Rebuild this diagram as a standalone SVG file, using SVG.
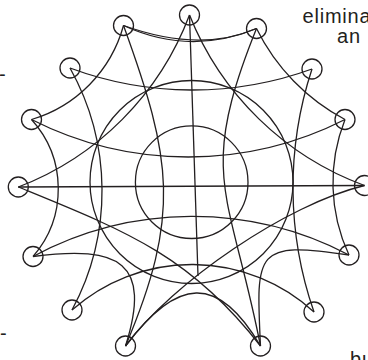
<svg xmlns="http://www.w3.org/2000/svg" width="368" height="360" viewBox="0 0 368 360">
<style>
.e{fill:none;stroke:#231f20;stroke-width:1.3}
.n{fill:none;stroke:#231f20;stroke-width:1.3}
.t{font-family:"Liberation Sans",Arial,sans-serif;font-size:20px;letter-spacing:0.8px;fill:#231f20}
</style>
<rect width="368" height="360" fill="#fff"/>
<g id="connectors">
<path class="e" d="M123.5,25.5 Q190,56 256.5,28.5"/>
<path class="e" d="M123.5,25.5 Q200,53 256.5,28.5"/>
<path class="e" d="M123.5,25.5 A135.4,135.4 0 0 1 31.5,119.5"/>
<path class="e" d="M123.5,25.5 C172.1,159 180.9,215.4 125.5,346"/>
<path class="e" d="M256.5,28.5 A206.6,206.6 0 0 0 345,119.5"/>
<path class="e" d="M256.5,28.5 C196.7,177 229.6,189 260.5,346"/>
<path class="e" d="M70,68 A351.2,351.2 0 0 0 312,69"/>
<path class="e" d="M70,68 A251.6,251.6 0 0 1 72,310"/>
<path class="e" d="M312,69 A379,379 0 0 0 314,312"/>
<path class="e" d="M31.5,119.5 A346.4,346.4 0 0 0 345,119.5"/>
<path class="e" d="M31.5,119.5 A103.2,103.2 0 0 1 33,256.5"/>
<path class="e" d="M345,119.5 A171.2,171.2 0 0 0 349,255"/>
<path class="e" d="M18.3,187 L364.5,185.5"/>
<path class="e" d="M189.5,15 A296.2,296.2 0 0 1 18.3,187"/>
<path class="e" d="M189.5,15 A300,300 0 0 0 364.5,185.5"/>
<path class="e" d="M18.3,187 C124.7,230.6 190,255.1 260.5,346"/>
<path class="e" d="M364.5,185.5 C286.7,204.3 173.2,281.8 125.5,346"/>
<path class="e" d="M33,256.5 A337.2,337.2 0 0 1 349,255"/>
<path class="e" d="M33,256.5 C120.3,245.2 151.9,262.4 125.5,346"/>
<path class="e" d="M349,255 C255,240.75 255.75,251 260.5,346"/>
<path class="e" d="M72,310 A180.7,180.7 0 0 1 314,312"/>
<path class="e" d="M125.5,346 C176.9,277.5 217.7,273.2 260.5,346"/>
<path class="e" d="M189.5,15 L198,276"/>
<circle class="e" cx="191.5" cy="182" r="101.5"/>
<circle class="e" cx="191.7" cy="182.2" r="56.3"/>
</g>
<g id="n0"><circle class="n" cx="189.5" cy="15" r="10"/></g>
<g id="n1"><circle class="n" cx="256.5" cy="28.5" r="10"/></g>
<g id="n2"><circle class="n" cx="312" cy="69" r="10"/></g>
<g id="n3"><circle class="n" cx="345" cy="119.5" r="10"/></g>
<g id="n4"><circle class="n" cx="364.5" cy="185.5" r="10"/></g>
<g id="n5"><circle class="n" cx="349" cy="255" r="10"/></g>
<g id="n6"><circle class="n" cx="314" cy="312" r="10"/></g>
<g id="n7"><circle class="n" cx="260.5" cy="346" r="10"/></g>
<g id="n9"><circle class="n" cx="125.5" cy="346" r="10"/></g>
<g id="n10"><circle class="n" cx="72" cy="310" r="10"/></g>
<g id="n11"><circle class="n" cx="33" cy="256.5" r="10"/></g>
<g id="n12"><circle class="n" cx="18.3" cy="187" r="10"/></g>
<g id="n13"><circle class="n" cx="31.5" cy="119.5" r="10"/></g>
<g id="n14"><circle class="n" cx="70" cy="68" r="10"/></g>
<g id="n15"><circle class="n" cx="123.5" cy="25.5" r="10"/></g>
<g id="texts">
<text class="t" x="302.5" y="23">elimina</text>
<text class="t" x="337" y="43">an</text>
<text class="t" x="-1" y="80.5">-</text>
<text class="t" x="0" y="339.5">-</text>
<text class="t" x="350" y="366">bu</text>
</g>
</svg>
